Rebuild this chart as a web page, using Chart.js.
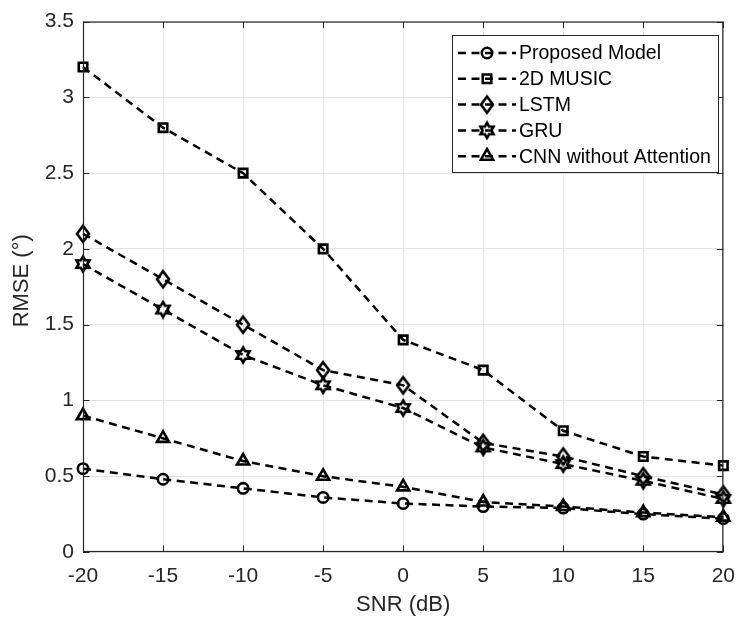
<!DOCTYPE html>
<html>
<head>
<meta charset="utf-8">
<script src="https://cdn.jsdelivr.net/npm/chart.js@4"></script>
<style>
  html, body { margin: 0; padding: 0; background: #ffffff; }
  #wrap { width: 747px; height: 618px; }
</style>
</head>
<body>
<div id="wrap"><canvas id="c" width="747" height="618"></canvas></div>
<script>
// ---- data ----
const snr = [-20, -15, -10, -5, 0, 5, 10, 15, 20];
const proposed = [0.55, 0.48, 0.42, 0.36, 0.32, 0.30, 0.29, 0.25, 0.22];
const music2d  = [3.20, 2.80, 2.50, 2.00, 1.40, 1.20, 0.80, 0.63, 0.57];
const lstm     = [2.10, 1.80, 1.50, 1.20, 1.10, 0.72, 0.63, 0.50, 0.38];
const gru      = [1.90, 1.60, 1.30, 1.10, 0.95, 0.69, 0.58, 0.47, 0.35];
const cnnNoAtt = [0.90, 0.75, 0.60, 0.50, 0.43, 0.33, 0.30, 0.26, 0.23];
const seriesNames = ['Proposed Model', '2D MUSIC', 'LSTM', 'GRU', 'CNN without Attention'];
const xTickLabels = ['-20', '-15', '-10', '-5', '0', '5', '10', '15', '20'];
const yTickLabels = ['0', '0.5', '1', '1.5', '2', '2.5', '3', '3.5'];
const xTitle = 'SNR (dB)';
const yTitle = 'RMSE (°)';

const FONT = '"Liberation Sans", Arial, Helvetica, sans-serif';
const AXIS_COLOR = '#262626';
const MW = 2.6; // marker stroke width

// custom marker canvases
function makeDiamond() {
  const c = document.createElement('canvas');
  c.width = 18; c.height = 22;
  const g = c.getContext('2d');
  g.strokeStyle = '#000'; g.lineWidth = MW;
  g.beginPath();
  g.moveTo(9, 3); g.lineTo(15, 11); g.lineTo(9, 19); g.lineTo(3, 11); g.closePath();
  g.stroke();
  return c;
}
function makeHexagram() {
  const c = document.createElement('canvas');
  c.width = 20; c.height = 20;
  const g = c.getContext('2d');
  g.strokeStyle = '#000'; g.lineWidth = MW;
  g.lineJoin = 'miter';
  const cx = 10, cy = 10, R = 7.5, r = R / Math.sqrt(3);
  g.beginPath();
  for (let i = 0; i < 12; i++) {
    const a = -Math.PI / 2 + i * Math.PI / 6;
    const rad = (i % 2 === 0) ? R : r;
    const px = cx + rad * Math.cos(a), py = cy + rad * Math.sin(a);
    if (i === 0) g.moveTo(px, py); else g.lineTo(px, py);
  }
  g.closePath();
  g.stroke();
  return c;
}
const diamondImg = makeDiamond();
const hexImg = makeHexagram();

const markerStyles = ['circle', 'rect', diamondImg, hexImg, 'triangle'];
const markerRadius = [5.2, 6, 6, 6, 7];
const seriesData = [proposed, music2d, lstm, gru, cnnNoAtt];

const datasets = seriesData.map((vals, i) => ({
  label: seriesNames[i],
  data: snr.map((x, k) => ({ x: x, y: vals[k] })),
  borderColor: '#000000',
  backgroundColor: 'rgba(0,0,0,0)',
  borderWidth: 2.5,
  borderDash: [8, 5.5],
  pointStyle: markerStyles[i],
  pointRadius: markerRadius[i],
  pointBorderWidth: MW,
  pointBorderColor: '#000000',
  pointBackgroundColor: 'rgba(0,0,0,0)',
  tension: 0,
  clip: false
}));

const framePlugin = {
  id: 'frame',
  afterDraw(chart) {
    const ctx = chart.ctx;
    const a = chart.chartArea;
    const xs = chart.scales.x, ys = chart.scales.y;
    ctx.save();
    // box
    ctx.strokeStyle = AXIS_COLOR;
    ctx.lineWidth = 1.2;
    ctx.strokeRect(a.left + 0.5, a.top + 0.5, a.right - a.left - 1, a.bottom - a.top - 1);
    // inward ticks
    const tl = 6.5;
    ctx.lineWidth = 1;
    ctx.beginPath();
    snr.forEach(v => {
      const px = Math.round(xs.getPixelForValue(v)) + 0.5;
      ctx.moveTo(px, a.bottom); ctx.lineTo(px, a.bottom - tl);
      ctx.moveTo(px, a.top); ctx.lineTo(px, a.top + tl);
    });
    yTickLabels.forEach(s => {
      const py = Math.round(ys.getPixelForValue(parseFloat(s))) + 0.5;
      ctx.moveTo(a.left, py); ctx.lineTo(a.left + tl, py);
      ctx.moveTo(a.right, py); ctx.lineTo(a.right - tl, py);
    });
    ctx.stroke();

    // axis titles
    ctx.fillStyle = AXIS_COLOR;
    ctx.font = '22px ' + FONT;
    ctx.textAlign = 'center';
    ctx.textBaseline = 'middle';
    ctx.fillText(xTitle, (a.left + a.right) / 2, 605);
    ctx.save();
    ctx.translate(22, (a.top + a.bottom) / 2 - 6);
    ctx.rotate(-Math.PI / 2);
    ctx.fillText(yTitle, 0, 0);
    ctx.restore();

    // legend
    const bx = 452, by = 35, bw = 266, bh = 137;
    ctx.fillStyle = '#ffffff';
    ctx.fillRect(bx, by, bw, bh);
    ctx.strokeStyle = AXIS_COLOR;
    ctx.lineWidth = 1;
    ctx.strokeRect(bx + 0.5, by + 0.5, bw, bh);
    const rowY0 = 53, rowH = 25.8;
    chart.data.datasets.forEach((ds, i) => {
      const y = rowY0 + i * rowH;
      ctx.save();
      ctx.strokeStyle = '#000';
      ctx.lineWidth = 2.5;
      ctx.setLineDash([8, 5.5]);
      ctx.beginPath();
      ctx.moveTo(458, y); ctx.lineTo(516, y);
      ctx.stroke();
      ctx.setLineDash([]);
      ctx.restore();
      ctx.save();
      ctx.strokeStyle = '#000';
      ctx.fillStyle = 'rgba(0,0,0,0)';
      ctx.lineWidth = MW;
      Chart.helpers.drawPoint(ctx, { pointStyle: ds.pointStyle, radius: ds.pointRadius, borderWidth: MW, rotation: 0 }, 487, y);
      ctx.restore();
      ctx.fillStyle = '#000';
      ctx.font = '19.5px ' + FONT;
      ctx.textAlign = 'left';
      ctx.textBaseline = 'middle';
      ctx.fillText(ds.label, 519, y + 1);
    });
    ctx.restore();
  }
};

new Chart(document.getElementById('c'), {
  type: 'line',
  data: { datasets: datasets },
  options: {
    responsive: false,
    animation: false,
    devicePixelRatio: 1,
    layout: { padding: { top: 21, right: 13, left: 0, bottom: 0 } },
    plugins: { legend: { display: false }, tooltip: { enabled: false } },
    scales: {
      x: {
        type: 'linear',
        min: -20, max: 20,
        afterFit(s) { s.height = 66; },
        afterBuildTicks(s) { s.ticks = snr.map(v => ({ value: v })); },
        ticks: {
          callback: (v) => xTickLabels[snr.indexOf(v)],
          color: AXIS_COLOR,
          font: { family: FONT, size: 21 },
          padding: 12,
          maxRotation: 0,
          autoSkip: false
        },
        grid: { color: '#e3e3e3', lineWidth: 1, drawTicks: false },
        border: { display: false }
      },
      y: {
        type: 'linear',
        min: 0, max: 3.5,
        afterFit(s) { s.width = 83; },
        afterBuildTicks(s) { s.ticks = yTickLabels.map(t => ({ value: parseFloat(t) })); },
        ticks: {
          callback: (v) => yTickLabels.find(t => parseFloat(t) === v),
          color: AXIS_COLOR,
          font: { family: FONT, size: 21 },
          padding: 9,
          autoSkip: false
        },
        grid: { color: '#e3e3e3', lineWidth: 1, drawTicks: false },
        border: { display: false }
      }
    }
  },
  plugins: [framePlugin]
});
</script>
</body>
</html>
